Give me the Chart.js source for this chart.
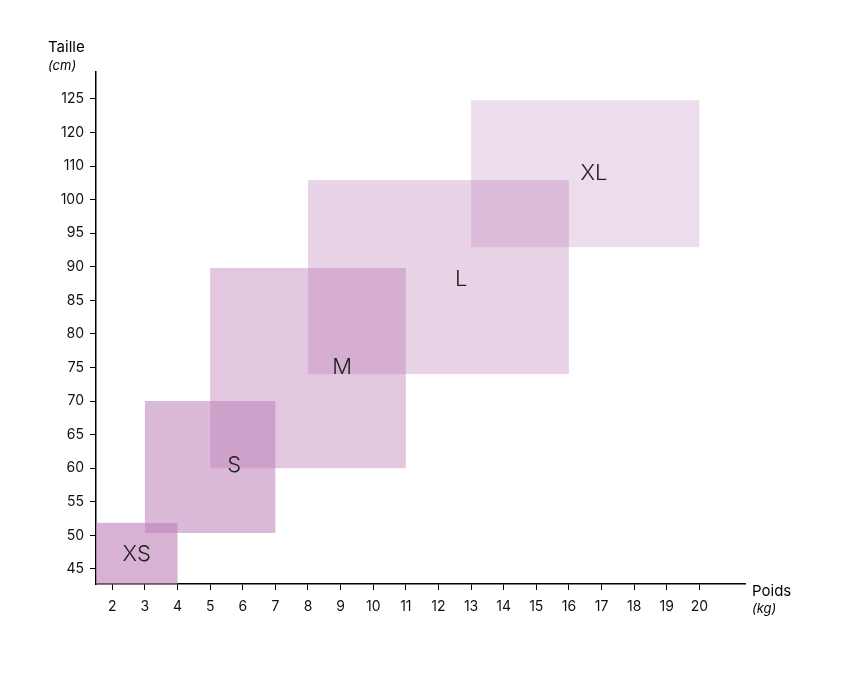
<!DOCTYPE html>
<html>
<head>
<meta charset="utf-8">
<script src="https://cdn.jsdelivr.net/npm/chart.js@4"></script>
<style>
  body { margin: 0; background: #fff; }
  #wrap { width: 867px; height: 673px; }
</style>
</head>
<body>
<div id="wrap"><canvas id="SizeChart"></canvas></div>
<script>
// tick labels (y axis is evenly spaced by index, not by value)
var heightLabels = ['45','50','55','60','65','70','75','80','85','90','95','100','110','120','125'];
var weightTicks = [2,3,4,5,6,7,8,9,10,11,12,13,14,15,16,17,18,19,20];

// size boxes: weight range (kg) and height range (y index)
var sizes = ['XS','S','M','L','XL'];
var weightFrom = [1.5, 3, 5, 8, 13];
var weightTo = [4, 7, 11, 16, 20];
var heightFrom = [-0.45, 1.07, 3.0, 5.8, 9.58];
var heightTo = [1.37, 5.0, 8.96, 11.58, 13.96];
var labelX = [2.75, 5.74, 9.05, 12.7, 16.77];
var labelY = [0.42, 3.07, 6.01, 8.63, 11.77];
var boxColors = [
  'rgba(190,130,185,0.62)',
  'rgba(190,130,185,0.55)',
  'rgba(190,130,185,0.45)',
  'rgba(190,130,185,0.35)',
  'rgba(190,130,185,0.27)'
];

var FONT = 'Inter, "Noto Sans", sans-serif';

var boxPlugin = {
  id: 'boxes',
  beforeDatasetsDraw(chart) {
    const ctx = chart.ctx, xs = chart.scales.x, ys = chart.scales.y;
    ctx.save();
    for (let i = 0; i < sizes.length; i++) {
      let x1 = xs.getPixelForValue(weightFrom[i]);
      let x2 = xs.getPixelForValue(weightTo[i]);
      let y1 = ys.getPixelForValue(heightTo[i]);
      let y2 = ys.getPixelForValue(heightFrom[i]);
      ctx.fillStyle = boxColors[i];
      ctx.fillRect(x1, y1, x2 - x1, y2 - y1);
    }
    ctx.fillStyle = '#222';
    ctx.font = '300 22px ' + FONT;
    ctx.textAlign = 'center';
    ctx.textBaseline = 'middle';
    for (let i = 0; i < sizes.length; i++) {
      ctx.fillText(sizes[i], xs.getPixelForValue(labelX[i]), ys.getPixelForValue(labelY[i]));
    }
    // axis titles
    ctx.textAlign = 'left';
    ctx.textBaseline = 'alphabetic';
    ctx.fillStyle = '#000';
    ctx.font = '15px ' + FONT;
    ctx.fillText('Taille', 48, 52);
    ctx.fillText('Poids', 752, 596);
    ctx.font = 'italic 13px ' + FONT;
    ctx.fillText('(cm)', 48, 70);
    ctx.fillText('(kg)', 752, 613);
    ctx.restore();
  }
};

new Chart('SizeChart', {
  type: 'scatter',
  data: { datasets: [{ data: [], pointRadius: 0 }] },
  plugins: [boxPlugin],
  options: {
    responsive: true,
    maintainAspectRatio: false,
    animation: false,
    layout: { padding: { top: 72, right: 122, left: 0, bottom: 0 } },
    plugins: { legend: { display: false }, tooltip: { enabled: false } },
    scales: {
      x: {
        type: 'linear', min: 1.5, max: 21.4,
        afterFit(s) { s.height = 89; },
        afterBuildTicks(s) { s.ticks = weightTicks.map(v => ({ value: v })); },
        grid: { display: true, drawOnChartArea: false, tickLength: 6, color: '#000' },
        border: { color: '#000', width: 1.5 },
        ticks: { color: '#111', font: { family: FONT, size: 14 }, padding: 8, maxRotation: 0, autoSkip: false }
      },
      y: {
        type: 'linear', min: -0.45, max: 14.8,
        afterFit(s) { s.width = 96; },
        afterBuildTicks(s) { s.ticks = heightLabels.map((l, i) => ({ value: i })); },
        grid: { display: true, drawOnChartArea: false, tickLength: 6, color: '#000' },
        border: { color: '#000', width: 1.5 },
        ticks: {
          color: '#111', font: { family: FONT, size: 14 }, padding: 6, autoSkip: false,
          callback: (v) => heightLabels[v]
        }
      }
    }
  }
});
</script>
</body>
</html>
